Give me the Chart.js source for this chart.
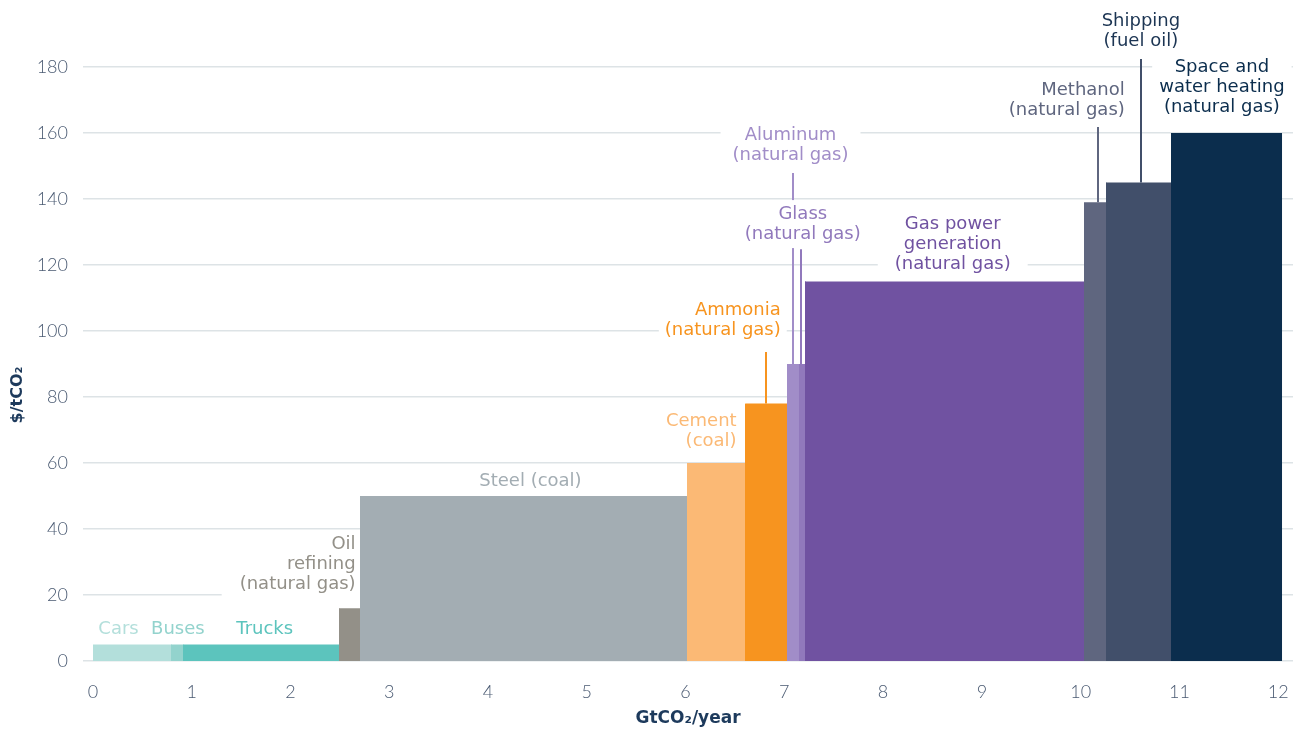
<!DOCTYPE html>
<html>
<head>
<meta charset="utf-8">
<script src="https://cdn.jsdelivr.net/npm/chart.js@4/dist/chart.umd.min.js"></script>
<style>
  html, body { margin: 0; padding: 0; background: #ffffff; }
  #wrap { width: 1296px; height: 731px; position: relative; }
</style>
</head>
<body>
<div id="wrap"><canvas id="c" width="1296" height="731"></canvas></div>
<script>
// ---- data ----
const sectors = ['Cars', 'Buses', 'Trucks', 'Oil refining (natural gas)', 'Steel (coal)', 'Cement (coal)',
  'Ammonia (natural gas)', 'Aluminum (natural gas)', 'Glass (natural gas)', 'Gas power generation (natural gas)',
  'Methanol (natural gas)', 'Shipping (fuel oil)', 'Space and water heating (natural gas)'];
// abatement potential, GtCO2/year (bar widths)
const abatement = [0.80, 0.12, 1.58, 0.21, 3.31, 0.59, 0.42, 0.12, 0.06, 2.83, 0.22, 0.66, 1.12];
// cost, $/tCO2 (bar heights)
const cost = [5, 5, 5, 16, 50, 60, 78, 90, 90, 115, 139, 145, 160];
const xTicks = [0, 1, 2, 3, 4, 5, 6, 7, 8, 9, 10, 11, 12];
const yTicks = [0, 20, 40, 60, 80, 100, 120, 140, 160, 180];
const xTitle = 'GtCO₂/year';
const yTitle = '$/tCO₂';

// ---- styles ----
const barColors = ['#b3dfdb', '#93d3cd', '#5cc4bd', '#939088', '#a3adb3', '#fbb975', '#f7941f',
  '#a18dc8', '#9179bc', '#7052a1', '#5f667f', '#414f6a', '#0b2d4d'];
const labelColors = ['#b3dfdb', '#93d3cd', '#5cc4bd', '#939088', '#a3adb3', '#fbb975', '#f7941f',
  '#a18dc8', '#9179bc', '#7052a1', '#5f667f', '#1c3553', '#0b2d4d'];
const FONT = '"DejaVu Sans", "Noto Sans", sans-serif';
const TICK_FONT = 'Lato, "DejaVu Sans", sans-serif';
const TITLE_COLOR = '#1d3a5c';
const TICK_COLOR = '#4a5a72';

// label layout (data coordinates)
const labelLayout = [
  { i: 0, x: 0.26, y: 9.7, align: 'center', lines: ['Cars'] },
  { i: 1, x: 0.86, y: 9.7, align: 'center', lines: ['Buses'] },
  { i: 2, x: 1.74, y: 9.7, align: 'center', lines: ['Trucks'] },
  { i: 3, x: 2.66, y: 29.4, align: 'right', padX: 18, lines: ['Oil', 'refining', '(natural gas)'] },
  { i: 4, x: 4.43, y: 54.5, align: 'center', lines: ['Steel (coal)'] },
  { i: 5, x: 6.517, y: 69.5, align: 'right', lines: ['Cement', '(coal)'] },
  { i: 6, x: 6.964, y: 103.3, align: 'right', padX: 6, lines: ['Ammonia', '(natural gas)'], leader: { x: 6.81, y: 93.6 } },
  { i: 7, x: 7.063, y: 156.4, align: 'center', padX: 12, lines: ['Aluminum', '(natural gas)'], leader: { x: 7.093, y: 147.9 } },
  { i: 8, x: 7.187, y: 132.4, align: 'center', padX: 8, lines: ['Glass', '(natural gas)'], leader: { x: 7.165, y: 124.8 } },
  { i: 9, x: 8.705, y: 126.4, align: 'center', padX: 17, lines: ['Gas power', 'generation', '(natural gas)'] },
  { i: 10, x: 10.447, y: 170, align: 'right', padX: 8, lines: ['Methanol', '(natural gas)'], leader: { x: 10.174, y: 161.8 } },
  { i: 11, x: 10.61, y: 190.9, align: 'center', padX: 8, lines: ['Shipping', '(fuel oil)'], leader: { x: 10.61, y: 182.4 } },
  { i: 12, x: 11.43, y: 173.9, align: 'center', padX: 7, lines: ['Space and', 'water heating', '(natural gas)'] }
];

// ---- build datasets: each sector is a filled step from its start to its end ----
let cursor = 0;
const starts = [];
const datasets = sectors.map((name, k) => {
  const x0 = cursor;
  const x1 = cursor + abatement[k];
  starts.push(x0);
  cursor = x1;
  return {
    label: name,
    data: [{ x: x0, y: cost[k] }, { x: x1, y: cost[k] }],
    fill: 'origin',
    backgroundColor: barColors[k],
    borderWidth: 0,
    borderColor: 'rgba(0,0,0,0)',
    pointRadius: 0,
    tension: 0
  };
});

const labelPlugin = {
  id: 'sectorLabels',
  beforeDatasetsDraw(chart) {
    const { ctx, scales: { x, y } } = chart;
    const lineH = 20;
    ctx.save();
    // leader lines
    labelLayout.forEach(l => {
      if (!l.leader) return;
      ctx.strokeStyle = barColors[l.i];
      ctx.lineWidth = 2;
      ctx.beginPath();
      const px = Math.round(x.getPixelForValue(l.leader.x));
      ctx.moveTo(px, y.getPixelForValue(l.leader.y));
      ctx.lineTo(px, y.getPixelForValue(cost[l.i]));
      ctx.stroke();
    });
    // label boxes + text
    ctx.font = '18px ' + FONT;
    labelLayout.forEach(l => {
      const ax = x.getPixelForValue(l.x);
      const cy = y.getPixelForValue(l.y);
      const widths = l.lines.map(t => ctx.measureText(t).width);
      const w = Math.max(...widths);
      const h = l.lines.length * lineH;
      const left = l.align === 'right' ? ax - w : ax - w / 2;
      const padX = l.padX || 4;
      ctx.fillStyle = '#ffffff';
      ctx.fillRect(left - padX, cy - h / 2 - 4, w + 2 * padX, h + 8);
      ctx.fillStyle = labelColors[l.i];
      ctx.textAlign = l.align;
      ctx.textBaseline = 'middle';
      l.lines.forEach((t, j) => {
        ctx.fillText(t, ax, cy - h / 2 + lineH / 2 + j * lineH);
      });
    });
    ctx.restore();
  },
  afterDatasetsDraw(chart) {
    // close anti-aliasing seams between adjoining sectors
    const { ctx, scales: { x, y } } = chart;
    ctx.save();
    for (let k = 1; k < sectors.length; k++) {
      const px = x.getPixelForValue(starts[k]);
      const top = y.getPixelForValue(cost[k]);
      const bottom = y.getPixelForValue(0);
      ctx.fillStyle = barColors[k];
      ctx.fillRect(Math.floor(px), top, 1, bottom - top);
    }
    ctx.restore();
  },
  afterDraw(chart) {
    // y axis title, placed as in the reference
    const { ctx, chartArea } = chart;
    ctx.save();
    ctx.translate(18, (chartArea.top + chartArea.bottom) / 2 + 31);
    ctx.rotate(-Math.PI / 2);
    ctx.font = 'bold 16px ' + FONT;
    ctx.fillStyle = TITLE_COLOR;
    ctx.textAlign = 'center';
    ctx.textBaseline = 'middle';
    ctx.fillText(yTitle, 0, 0);
    ctx.restore();
  }
};

new Chart(document.getElementById('c'), {
  type: 'line',
  data: { datasets },
  plugins: [labelPlugin],
  options: {
    responsive: false,
    animation: false,
    events: [],
    layout: { padding: { top: 67, right: 3, left: 0, bottom: 0 } },
    plugins: { legend: { display: false }, tooltip: { enabled: false } },
    scales: {
      x: {
        type: 'linear',
        min: -0.1,
        max: 12.15,
        afterBuildTicks: s => { s.ticks = xTicks.map(v => ({ value: v })); },
        afterFit: s => { s.height = 70; },
        grid: { display: false, drawTicks: true, tickLength: 20 },
        border: { display: false },
        ticks: {
          padding: 0,
          color: TICK_COLOR,
          font: { family: TICK_FONT, size: 18, weight: '300' },
          maxRotation: 0
        },
        title: {
          display: true,
          text: xTitle,
          color: TITLE_COLOR,
          font: { family: FONT, size: 17, weight: 'bold' },
          padding: { top: 0, bottom: 2 }
        }
      },
      y: {
        min: 0,
        max: 180,
        afterBuildTicks: s => { s.ticks = yTicks.map(v => ({ value: v })); },
        afterFit: s => { s.width = 83; },
        grid: { color: '#dde3e6', lineWidth: 1.5, drawTicks: false },
        border: { display: false },
        ticks: {
          padding: 15,
          color: TICK_COLOR,
          font: { family: TICK_FONT, size: 18, weight: '300' }
        },
        title: { display: false }
      }
    }
  }
});
</script>
</body>
</html>
